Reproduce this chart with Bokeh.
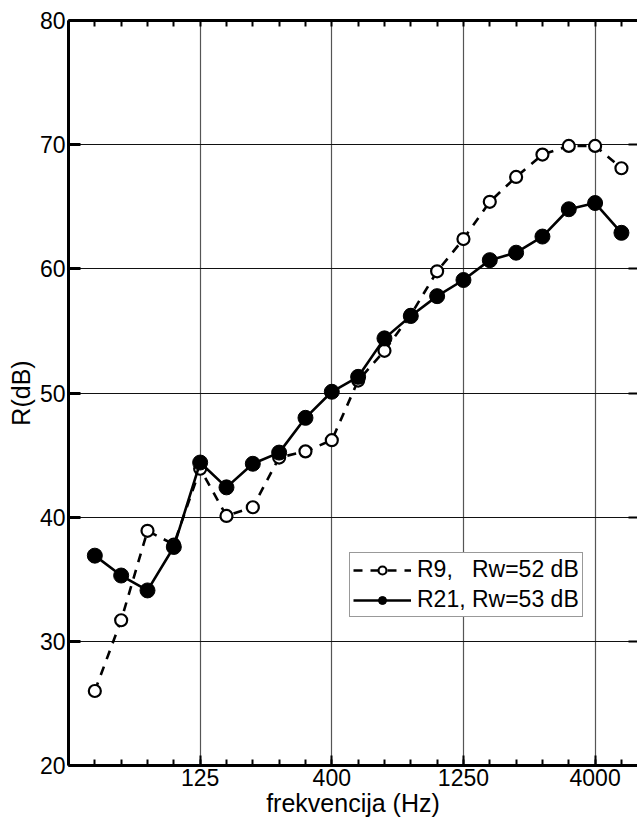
from bokeh.plotting import figure
from bokeh.models import (Range1d, FixedTicker, LinearAxis, Legend, LegendItem,
                          ColumnDataSource)
from bokeh.embed import file_html
from bokeh.resources import INLINE

# third-octave band centre frequencies (Hz)
bands = ["50", "63", "80", "100", "125", "160", "200", "250", "315", "400", "500",
         "630", "800", "1000", "1250", "1600", "2000", "2500", "3150", "4000", "5000"]
r9 = [26.0, 31.7, 38.9, 37.8, 43.9, 40.1, 40.8, 44.8, 45.3, 46.2, 51.0,
      53.4, 56.3, 59.8, 62.4, 65.4, 67.4, 69.2, 69.9, 69.9, 68.1]
r21 = [36.9, 35.3, 34.1, 37.6, 44.4, 42.4, 44.3, 45.2, 48.0, 50.1, 51.3,
       54.4, 56.2, 57.8, 59.1, 60.7, 61.3, 62.6, 64.8, 65.3, 62.9]
x_tick_labels = ["125", "400", "1250", "4000"]
y_ticks = [20, 30, 40, 50, 60, 70, 80]
series_names = ["R9,\u00a0\u00a0 Rw=52 dB", "R21, Rw=53 dB"]
x_title = "frekvencija (Hz)"
y_title = "R(dB)"

FONT = "Liberation Sans"
idx = list(range(len(bands)))
major_idx = [bands.index(t) for t in x_tick_labels]
src = ColumnDataSource(dict(x=idx, r9=r9, r21=r21))

p = figure(frame_width=569, frame_height=745, output_backend="svg", toolbar_location=None,
           x_range=Range1d(-1, 20.61), y_range=Range1d(20, 80),
           min_border_left=68, min_border_right=0, min_border_top=20, min_border_bottom=0,
           x_axis_location="below", y_axis_location="left")
p.outline_line_color = None
p.background_fill_color = "white"
p.border_fill_color = "white"

band_ticks = [i for i in range(-1, 22)]
xt = FixedTicker(ticks=major_idx, minor_ticks=band_ticks)
yt = FixedTicker(ticks=y_ticks, minor_ticks=[])

# bottom axis
xa = p.xaxis[0]
xa.ticker = xt
xa.major_label_overrides = {i: t for i, t in zip(major_idx, x_tick_labels)}
xa.axis_line_width = 3
xa.major_tick_in = 10
xa.major_tick_out = 0
xa.minor_tick_in = 6
xa.minor_tick_out = 0
xa.major_tick_line_width = 2
xa.minor_tick_line_width = 2
xa.major_label_text_font = FONT
xa.major_label_text_font_size = "23px"
xa.major_label_text_color = "black"
xa.major_label_standoff = 3
xa.axis_label = x_title
xa.axis_label_text_font = FONT
xa.axis_label_text_font_size = "25px"
xa.axis_label_text_font_style = "normal"
xa.axis_label_text_color = "black"
xa.axis_label_standoff = 0

# left axis
ya = p.yaxis[0]
ya.ticker = yt
ya.axis_line_width = 3
ya.major_tick_in = 12
ya.major_tick_out = 0
ya.major_tick_line_width = 3
ya.minor_tick_in = 0
ya.minor_tick_out = 0
ya.major_label_text_font = FONT
ya.major_label_text_font_size = "23px"
ya.major_label_text_color = "black"
ya.major_label_standoff = 3
ya.axis_label = y_title
ya.axis_label_text_font = FONT
ya.axis_label_text_font_size = "25px"
ya.axis_label_text_font_style = "normal"
ya.axis_label_text_color = "black"
ya.axis_label_standoff = 2

# top axis (tick marks only, no labels)
ta = LinearAxis(ticker=FixedTicker(ticks=[], minor_ticks=band_ticks),
                axis_line_width=3, major_tick_in=0, major_tick_out=0,
                minor_tick_in=6, minor_tick_out=0, minor_tick_line_width=2,
                major_label_standoff=0)
p.add_layout(ta, "above")

# right axis (tick marks only, no labels)
ra = LinearAxis(ticker=FixedTicker(ticks=[], minor_ticks=y_ticks),
                axis_line_color=None, major_tick_in=0, major_tick_out=0,
                minor_tick_in=9, minor_tick_out=0, minor_tick_line_width=2,
                major_label_standoff=0)
p.add_layout(ra, "right")

# grids
p.xgrid.ticker = FixedTicker(ticks=major_idx)
p.xgrid.grid_line_color = "#555555"
p.xgrid.grid_line_width = 1.2
p.ygrid.ticker = FixedTicker(ticks=y_ticks[1:-1])
p.ygrid.grid_line_color = "#111111"
p.ygrid.grid_line_width = 1.2

# series
l9 = p.line("x", "r9", source=src, line_color="black", line_width=2.6, line_dash="9 8")
s9 = p.scatter("x", "r9", source=src, marker="circle", size=12, fill_color="white",
               line_color="black", line_width=2.2)
l21 = p.line("x", "r21", source=src, line_color="black", line_width=2.6)
s21 = p.scatter("x", "r21", source=src, marker="circle", size=15, fill_color="black",
                line_color="black")

legend = Legend(items=[LegendItem(label=series_names[0], renderers=[l9, s9]),
                       LegendItem(label=series_names[1], renderers=[l21, s21])],
                location=(281, 148), orientation="vertical",
                label_text_font=FONT, label_text_font_size="23px", label_text_color="black",
                glyph_width=58, glyph_height=20, label_height=20, label_standoff=6,
                spacing=3, padding=3, margin=0,
                border_line_color="#333333", border_line_width=1.2,
                background_fill_alpha=1.0)
p.add_layout(legend, "center")

open("out.html", "w").write(file_html(p, INLINE))
